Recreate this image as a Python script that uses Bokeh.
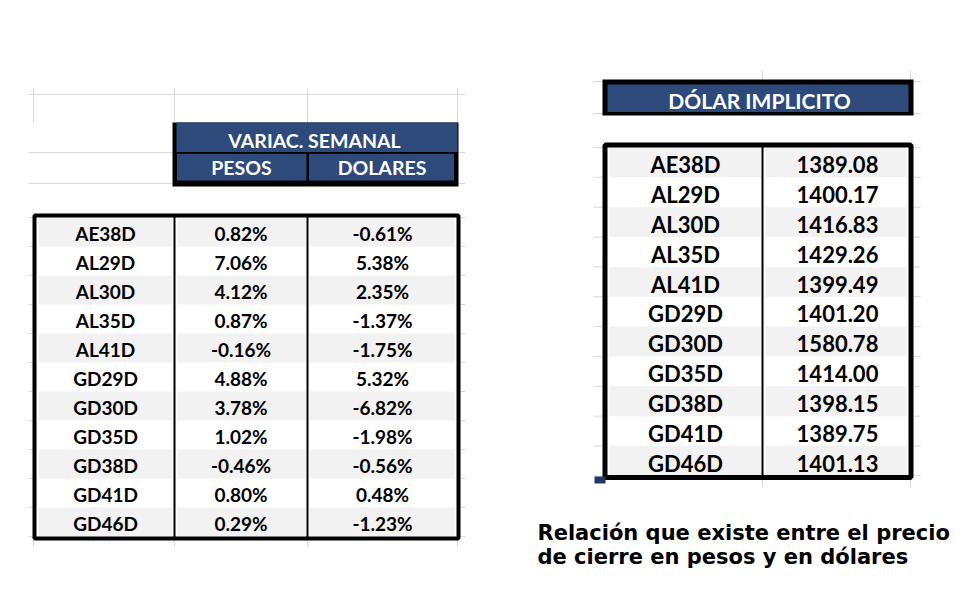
from bokeh.plotting import figure
from bokeh.models import Range1d, ColumnDataSource
from bokeh.core.properties import value
from bokeh.embed import file_html
from bokeh.resources import INLINE

# ---- data ----
bonds = ["AE38D", "AL29D", "AL30D", "AL35D", "AL41D", "GD29D",
         "GD30D", "GD35D", "GD38D", "GD41D", "GD46D"]
var_pesos = [0.82, 7.06, 4.12, 0.87, -0.16, 4.88, 3.78, 1.02, -0.46, 0.80, 0.29]
var_dolares = [-0.61, 5.38, 2.35, -1.37, -1.75, 5.32, -6.82, -1.98, -0.56, 0.48, -1.23]
dolar_implicito = [1389.08, 1400.17, 1416.83, 1429.26, 1399.49, 1401.20,
                   1580.78, 1414.00, 1398.15, 1389.75, 1401.13]
header_left = "VARIAC. SEMANAL"
subheaders = ["PESOS", "DOLARES"]
header_right = "DÓLAR IMPLICITO"
note_lines = ["Relación que existe entre el precio", "de cierre en pesos y en dólares"]

# ---- style ----
BLUE = "#2D4A7B"
GREY = "#F2F2F2"
GRID = "#DADADA"
FONT = value("Lato")

p = figure(width=964, height=584, output_backend="svg", toolbar_location=None,
           x_range=Range1d(0, 964), y_range=Range1d(584, 0), min_border=0)
p.axis.visible = False
p.grid.visible = False
p.outline_line_color = None
p.background_fill_color = "white"
p.border_fill_color = "white"

n = len(bonds)

# ================= LEFT TABLE =================
L_top0, L_h = 217.0, 29.0
L_rows_top = [L_top0 + L_h * i for i in range(n)]

gx0, gx1, gy0, gy1 = [], [], [], []
for y in [94] + [L_top0 + L_h * i for i in range(n + 1)] + [152, 183]:
    gx0.append(28); gx1.append(465); gy0.append(y); gy1.append(y)
for x in [33, 174, 307, 457]:
    gx0.append(x); gx1.append(x); gy0.append(88); gy1.append(122)
    gx0.append(x); gx1.append(x); gy0.append(538); gy1.append(546)
p.segment(x0=gx0, x1=gx1, y0=gy0, y1=gy1, line_color=GRID, line_width=1)

p.quad(left=[172], right=[458], top=[122], bottom=[186], fill_color="black", line_color=None)
p.quad(left=[176], right=[457], top=[122], bottom=[151.5], fill_color=BLUE, line_color=None)
p.quad(left=[176.5, 308.5], right=[306, 453.5], top=[153.3, 153.3], bottom=[180, 180],
       fill_color=BLUE, line_color=None)

hdr_src = ColumnDataSource(dict(x=[314, 241, 381.5], y=[140, 167, 167],
                                t=[header_left] + subheaders))
p.text(x="x", y="y", text="t", source=hdr_src, text_color="white", text_font=FONT,
       text_font_style="bold", text_font_size="19.5px", text_align="center",
       text_baseline="middle")

p.quad(left=[33], right=[459], top=[215], bottom=[539], fill_color="white", line_color=None)
sl, sr, st, sb = [], [], [], []
for i in range(n):
    if i % 2 == 0:
        for a, b in [(38, 172), (177, 305), (309, 454)]:
            sl.append(a); sr.append(b); st.append(L_rows_top[i]); sb.append(L_rows_top[i] + L_h)
p.quad(left=sl, right=sr, top=st, bottom=sb, fill_color=GREY, line_color=None)

p.segment(x0=[174, 307], x1=[174, 307], y0=[215, 215], y1=[539, 539],
          line_color="black", line_width=2)
p.quad(left=[34], right=[458], top=[215], bottom=[538], fill_color=None,
       line_color="black", line_width=4)

ldata = ColumnDataSource(dict(
    x=[105] * n + [240.5] * n + [382] * n,
    y=[t + 16 for t in L_rows_top] * 3,
    t=bonds + [f"{v:.2f}%" for v in var_pesos] + [f"{v:.2f}%" for v in var_dolares]))
p.text(x="x", y="y", text="t", source=ldata, text_color="black", text_font=FONT,
       text_font_style="bold", text_font_size="19px", text_align="center",
       text_baseline="middle")

# ================= RIGHT TABLE =================
R_top0, R_h = 147.0, 29.85
R_rows_top = [R_top0 + R_h * i for i in range(n)]

gx0, gx1, gy0, gy1 = [], [], [], []
for y in [81, 113] + [R_top0 + R_h * i for i in range(n + 1)]:
    gx0.append(593); gx1.append(920); gy0.append(y); gy1.append(y)
for x in [762, 910]:
    gx0.append(x); gx1.append(x); gy0.append(70); gy1.append(80)
    gx0.append(x); gx1.append(x); gy0.append(478); gy1.append(486)
p.segment(x0=gx0, x1=gx1, y0=gy0, y1=gy1, line_color=GRID, line_width=1)

p.quad(left=[602], right=[913], top=[79], bottom=[115], fill_color="black", line_color=None)
p.quad(left=[607], right=[908], top=[84], bottom=[111.5], fill_color=BLUE, line_color=None)
p.text(x=[759], y=[100.2], text=[header_right], text_color="white", text_font=FONT,
       text_font_style="bold", text_font_size="21px", text_align="center",
       text_baseline="middle")

p.quad(left=[604], right=[911], top=[144], bottom=[477], fill_color="white", line_color=None)
sl, sr, st, sb = [], [], [], []
for i in range(n):
    if i % 2 == 0:
        for a, b in [(609, 760), (765, 906)]:
            sl.append(a); sr.append(b); st.append(R_rows_top[i]); sb.append(R_rows_top[i] + R_h)
p.quad(left=sl, right=sr, top=st, bottom=sb, fill_color=GREY, line_color=None)

p.segment(x0=[762], x1=[762], y0=[144], y1=[477], line_color="black", line_width=2)
p.quad(left=[604.5], right=[910.5], top=[144.5], bottom=[477], fill_color=None,
       line_color="black", line_width=5)
p.quad(left=[594], right=[605], top=[476], bottom=[483], fill_color="#1F3864", line_color=None)

rdata = ColumnDataSource(dict(
    x=[685] * n + [837] * n,
    y=[t + 17.2 for t in R_rows_top] * 2,
    t=bonds + [f"{v:.2f}" for v in dolar_implicito]))
p.text(x="x", y="y", text="t", source=rdata, text_color="black", text_font=FONT,
       text_font_style="bold", text_font_size="22px", text_align="center",
       text_baseline="middle")

# ================= NOTE =================
p.text(x=[537, 537], y=[532.5, 556], text=note_lines, text_color="black",
       text_font=value("DejaVu Sans"), text_font_style="bold", text_font_size="21px",
       text_align="left", text_baseline="middle")

open("out.html", "w").write(file_html(p, INLINE))
